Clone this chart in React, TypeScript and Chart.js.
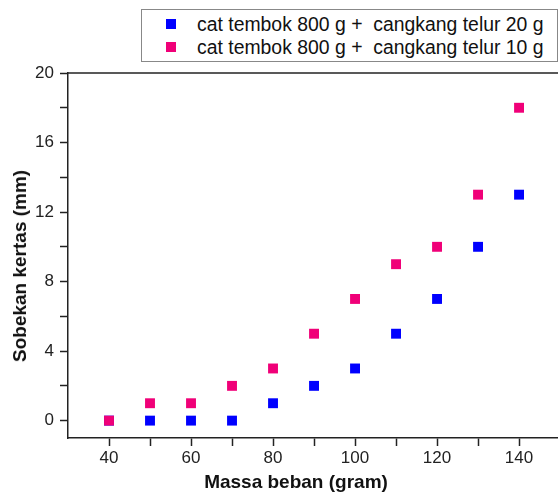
import React, { useEffect, useRef } from "react";
import { Chart, registerables } from "chart.js";

Chart.register(...registerables);

const massa = [40, 50, 60, 70, 80, 90, 100, 110, 120, 130, 140];
const seri20 = [0, 0, 0, 0, 1, 2, 3, 5, 7, 10, 13];
const seri10 = [0, 1, 1, 2, 3, 5, 7, 9, 10, 13, 18];
const xTicks = [40, 50, 60, 70, 80, 90, 100, 110, 120, 130, 140];
const yTicks = [0, 2, 4, 6, 8, 10, 12, 14, 16, 18, 20];
const label20 = "cat tembok 800 g +  cangkang telur 20 g";
const label10 = "cat tembok 800 g +  cangkang telur 10 g";
const xTitle = "Massa beban (gram)";
const yTitle = "Sobekan kertas (mm)";

const BLUE = "#0000FF";
const PINK = "#F00078";
const FONT = "'Liberation Sans', Arial, sans-serif";

const topLine = {
  id: "topLine",
  afterDraw(chart: any) {
    const { ctx, chartArea } = chart;
    ctx.save();
    ctx.strokeStyle = "#222";
    ctx.lineWidth = 1.5;
    ctx.beginPath();
    ctx.moveTo(chartArea.left, chartArea.top);
    ctx.lineTo(chartArea.right, chartArea.top);
    ctx.stroke();
    ctx.restore();
  },
};

export default function App() {
  const ref = useRef<HTMLCanvasElement>(null);
  useEffect(() => {
    document.body.style.margin = "0";
    document.body.style.overflow = "hidden";
    const chart = new Chart(ref.current!, {
      type: "scatter",
      data: {
        datasets: [
          {
            label: label10,
            data: massa.map((x, i) => ({ x, y: seri10[i] })),
            backgroundColor: PINK,
            borderColor: PINK,
            pointStyle: "rect",
            pointRadius: 7,
            borderWidth: 0,
          },
          {
            label: label20,
            data: massa.map((x, i) => ({ x, y: seri20[i] })),
            backgroundColor: BLUE,
            borderColor: BLUE,
            pointStyle: "rect",
            pointRadius: 7,
            borderWidth: 0,
          },
        ],
      },
      options: {
        animation: false,
        responsive: false,
        layout: { padding: { top: 73, right: 0, left: 0, bottom: 0 } },
        plugins: { legend: { display: false }, tooltip: { enabled: false } },
        scales: {
          x: {
            type: "linear",
            min: 30,
            max: 149.5,
            afterBuildTicks: (s: any) => {
              s.ticks = xTicks.map((v) => ({ value: v }));
            },
            afterFit: (s: any) => {
              s.height = 54;
            },
            ticks: {
              autoSkip: false,
              maxRotation: 0,
              padding: 2,
              color: "#222",
              font: { family: FONT, size: 17 },
              callback: (v: any) => (Number(v) % 20 === 0 ? String(v) : ""),
            },
            grid: {
              drawOnChartArea: false,
              drawTicks: true,
              tickLength: 8,
              tickColor: "#222",
              tickWidth: 1.5,
            },
            border: { display: true, color: "#222", width: 1.5 },
            title: { display: false, text: xTitle },
          },
          y: {
            type: "linear",
            min: -1,
            max: 20,
            afterBuildTicks: (s: any) => {
              s.ticks = yTicks.map((v) => ({ value: v }));
            },
            afterFit: (s: any) => {
              s.width = 68;
            },
            ticks: {
              autoSkip: false,
              padding: 6,
              color: "#222",
              font: { family: FONT, size: 17 },
              callback: (v: any) => (Number(v) % 4 === 0 ? String(v) : ""),
            },
            grid: {
              drawOnChartArea: false,
              drawTicks: true,
              tickLength: 8,
              tickColor: "#222",
              tickWidth: 1.5,
            },
            border: { display: true, color: "#222", width: 1.5 },
            title: { display: false, text: yTitle },
          },
        },
      },
      plugins: [topLine],
    } as any);
    return () => chart.destroy();
  }, []);

  const row = (color: string, text: string, top: number) => (
    <div
      style={{
        position: "absolute",
        left: 0,
        top,
        height: 22,
        display: "flex",
        alignItems: "center",
        whiteSpace: "pre",
      }}
    >
      <span
        style={{
          display: "inline-block",
          width: 10,
          height: 10,
          background: color,
          marginLeft: 24,
          marginRight: 21,
        }}
      />
      <span style={{ fontFamily: FONT, fontSize: 19.4, color: "#111" }}>{text}</span>
    </div>
  );

  const titleStyle: React.CSSProperties = {
    position: "absolute",
    fontFamily: FONT,
    fontSize: 19,
    fontWeight: "bold",
    color: "#111",
    whiteSpace: "nowrap",
    lineHeight: "22px",
  };

  return (
    <div style={{ position: "relative", width: 558, height: 492, overflow: "hidden" }}>
      <canvas ref={ref} width={565} height={492} style={{ display: "block" }} />
      <div
        style={{
          position: "absolute",
          left: 141,
          top: 9,
          width: 415,
          height: 51,
          border: "1px solid #888",
          background: "#fff",
        }}
      >
        {row(BLUE, label20, 3)}
        {row(PINK, label10, 26)}
      </div>
      <div
        style={{
          ...titleStyle,
          left: 296,
          top: 482,
          transform: "translate(-50%, -50%)",
        }}
      >
        {xTitle}
      </div>
      <div
        style={{
          ...titleStyle,
          left: 20,
          top: 266,
          transform: "translate(-50%, -50%) rotate(-90deg)",
        }}
      >
        {yTitle}
      </div>
    </div>
  );
}
